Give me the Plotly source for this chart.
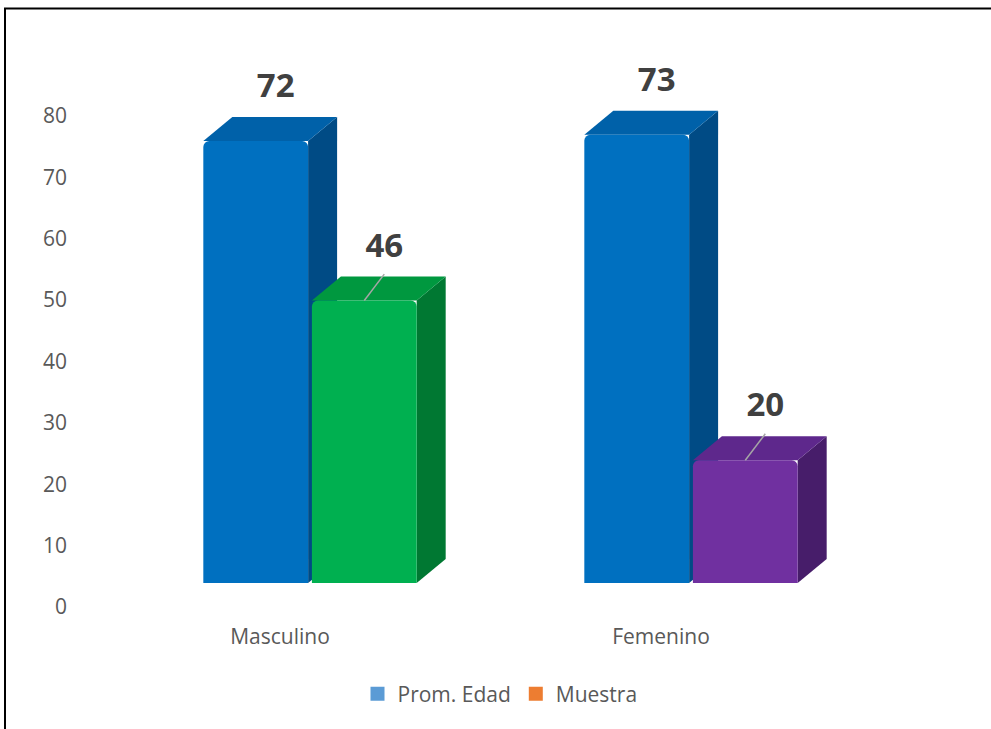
import plotly.graph_objects as go

# ---- data -------------------------------------------------------------
categories = ["Masculino", "Femenino"]
series_names = ["Prom. Edad", "Muestra"]
prom_edad = [72, 73]
muestra = [46, 20]
y_ticks = [0, 10, 20, 30, 40, 50, 60, 70, 80]

# ---- colours (front, top, side) per bar ---------------------------------
edad_colors = [("#0070C0", "#0061A9", "#004B85"), ("#0070C0", "#0061A9", "#004B85")]
muestra_colors = [("#00B050", "#00983F", "#007832"), ("#7030A0", "#5E288C", "#471D6A")]
legend_colors = ["#5B9BD5", "#ED7D31"]
TEXT_GREY = "#595959"
LABEL_DARK = "#404040"
FONT = "Open Sans"

# ---- page geometry ------------------------------------------------------
W, H = 991, 729
L, R, T, B = 80, 0, 20, 114
plot_w = W - L - R
plot_h = H - T - B
PX_X = 381.0        # pixels between category centres
CAT0_PX = 310       # pixel column of the first category centre
PX_Y = 6.14         # pixels per value unit
ZERO_PX = 583       # pixel row of the bar base
TICK_ZERO_PX = 607  # pixel row of the "0" tick label
CAT_LABEL_SHIFT = 30  # category labels sit left of the bar pair

x_min = -(CAT0_PX - L) / PX_X
x_max = x_min + plot_w / PX_X
y_min = -(T + plot_h - ZERO_PX) / PX_Y
y_max = y_min + plot_h / PX_Y
t_min = -(T + plot_h - TICK_ZERO_PX) / PX_Y
t_max = t_min + plot_h / PX_Y
shift = CAT_LABEL_SHIFT / PX_X

BAR_W = 0.275       # bar width in category units
GAP = 0.005         # half gap between the two bars of a pair
DX = 29 / PX_X      # depth offset, x
DY = 24 / PX_Y      # depth offset, y
LBL_DX = 20 / PX_X
LBL_DY = 8.5
LEAD_DY = 4.3

fig = go.Figure()


def add_block(i, value, colors, left, z, name):
    """Front face as a bar, top and side faces as filled polygons."""
    front, top, side = colors
    x0 = i + left
    x1 = x0 + BAR_W
    # side face
    fig.add_trace(go.Scatter(
        x=[x1, x1, x1 + DX, x1 + DX, x1],
        y=[0, value, value + DY, DY, 0],
        mode="lines", fill="toself", fillcolor=side,
        line=dict(width=0, color=side), hoverinfo="skip",
        showlegend=False, zorder=z))
    # top face
    fig.add_trace(go.Scatter(
        x=[x0, x1, x1 + DX, x0 + DX, x0],
        y=[value, value, value + DY, value + DY, value],
        mode="lines", fill="toself", fillcolor=top,
        line=dict(width=0, color=top), hoverinfo="skip",
        showlegend=False, zorder=z))
    # front face
    fig.add_trace(go.Bar(
        x=[i], y=[value], offset=left, width=BAR_W, name=name,
        marker=dict(color=front, line=dict(width=0), cornerradius=6),
        showlegend=False, zorder=z + 1))
    return (x0 + x1) / 2


for s, (vals, cols, left) in enumerate([
        (prom_edad, edad_colors, -GAP - BAR_W),
        (muestra, muestra_colors, GAP)]):
    for i, v in enumerate(vals):
        xc = add_block(i, v, cols[i], left, 2 * s, series_names[s])
        lx, ly = xc + LBL_DX, v + LBL_DY
        if s == 1:
            # leader line from the bar top to the shifted label
            fig.add_trace(go.Scatter(
                x=[xc, xc + LBL_DX], y=[v, v + LEAD_DY], mode="lines",
                line=dict(color="#A6A6A6", width=1.5), hoverinfo="skip",
                showlegend=False, zorder=10))
        fig.add_trace(go.Scatter(
            x=[lx], y=[ly], mode="text", text=[str(v)],
            textposition="middle center",
            textfont=dict(family=FONT, size=33, color=LABEL_DARK, weight="bold"),
            hoverinfo="skip", showlegend=False, zorder=11))

# legend entries (series colours)
for name, c in zip(series_names, legend_colors):
    fig.add_trace(go.Scatter(x=[None], y=[None], name=name, mode="markers",
                             marker=dict(color=c, symbol="square", size=14,
                                         line=dict(width=0))))

# helper trace so the label axes are drawn
fig.add_trace(go.Scatter(x=[None], y=[None], xaxis="x2", yaxis="y2",
                         showlegend=False, hoverinfo="skip"))

fig.update_layout(
    width=W, height=H,
    margin=dict(l=L, r=R, t=T, b=B),
    paper_bgcolor="white", plot_bgcolor="white",
    barmode="overlay",
    font=dict(family=FONT, color=TEXT_GREY, size=21),
    xaxis=dict(range=[x_min, x_max], visible=False),
    yaxis=dict(range=[y_min, y_max], visible=False),
    xaxis2=dict(range=[x_min + shift, x_max + shift], overlaying="x",
                anchor="y2", side="bottom",
                tickmode="array", tickvals=list(range(len(categories))),
                ticktext=categories, showgrid=False, zeroline=False,
                showline=False, ticks="", ticklabelstandoff=7,
                tickfont=dict(family=FONT, size=21, color=TEXT_GREY)),
    yaxis2=dict(range=[t_min, t_max], overlaying="y", anchor="x2",
                side="left", tickmode="array", tickvals=y_ticks,
                showgrid=False, zeroline=False, showline=False, ticks="",
                ticklabelstandoff=12,
                tickfont=dict(family=FONT, size=21, color=TEXT_GREY)),
    legend=dict(orientation="h", x=(500 - L) / plot_w, xanchor="center",
                y=(T + plot_h - 694) / plot_h, yanchor="middle",
                font=dict(family=FONT, size=21, color=TEXT_GREY),
                itemwidth=30, bgcolor="rgba(0,0,0,0)"),
    showlegend=True,
)

# frame lines along the top and left edges
fx = lambda px: (px - L) / plot_w
fy = lambda py: (T + plot_h - py) / plot_h
fig.add_shape(type="line", xref="paper", yref="paper",
              x0=fx(4), x1=fx(W), y0=fy(8.5), y1=fy(8.5),
              line=dict(color="black", width=2))
fig.add_shape(type="line", xref="paper", yref="paper",
              x0=fx(5), x1=fx(5), y0=fy(8), y1=fy(H),
              line=dict(color="black", width=2))

fig.write_html("out.html")
